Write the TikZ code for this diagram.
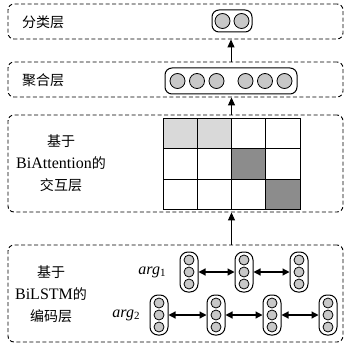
\documentclass[tikz,border=0pt]{standalone}
\usepackage{fontspec}
\setmainfont{Liberation Serif}
\newfontfamily\cjk{Noto Sans CJK SC}
\usetikzlibrary{arrows.meta,calc}
\newcommand\zh[1]{{\cjk\fontsize{14}{22}\selectfont #1}}
\newcommand\argsub[1]{\textit{arg}\raisebox{-0.35ex}{\fontsize{11}{11}\selectfont #1}}
\definecolor{lightcell}{HTML}{D9D9D9}
\definecolor{darkcell}{HTML}{8C8C8C}
\definecolor{circfill}{HTML}{C8C8C8}
\begin{document}
\begin{tikzpicture}[x=1pt,y=-1pt,
  layer/.style={draw, dash pattern=on 4pt off 2.5pt, rounded corners=6pt, line width=0.9pt, minimum width=335pt, inner sep=0pt},
  lbl/.style={inner sep=0pt, align=center, font=\fontsize{16}{22}\selectfont},
  vec/.style={draw, rounded corners=7pt, line width=1pt, inner sep=0pt},
  dot/.style={circle, draw, fill=circfill, line width=0.8pt, inner sep=0pt},
  pill/.style={draw, rounded corners=8pt, line width=1pt, minimum width=18pt, minimum height=40pt, inner sep=0pt},
  arr/.style={-{Triangle[length=8pt,width=7pt]}, line width=1pt},
  darr/.style={{Triangle[length=7pt,width=7pt]}-{Triangle[length=7pt,width=7pt]}, line width=1.2pt}
]
\useasboundingbox (0,0) rectangle (345,347);

% layer boxes
\node[layer, minimum height=35pt] (l1) at (175.5,21.5) {};
\node[layer, minimum height=35pt] (l2) at (175.5,79.5) {};
\node[layer, minimum height=97pt] (l3) at (175.5,163.5) {};
\node[layer, minimum height=97pt] (l4) at (175.5,293.5) {};

% layer labels
\node[lbl] (t1) at (43,22) {\zh{分类层}};
\node[lbl] (t2) at (43,80) {\zh{聚合层}};
\node[lbl] (t3) at (61,163) {\zh{基于}\\BiAttention\zh{的}\\\zh{交互层}};
\node[lbl] (t4) at (51,294) {\zh{基于}\\BiLSTM\zh{的}\\\zh{编码层}};

% classification vector
\node[vec, minimum width=40pt, minimum height=22pt] (cls) at (232,21) {};
\foreach \dx [count=\i] in {-9.5,9.5}
  \node[dot, minimum size=15pt] (cd\i) at ($(cls.center)+(\dx,0)$) {};

% aggregation vector
\node[vec, minimum width=132pt, minimum height=26pt] (agg) at (231,81) {};
\foreach \dx [count=\i] in {-53.5,-34,-14.5,14.5,34,53.5}
  \node[dot, minimum size=15pt] (ad\i) at ($(agg.center)+(\dx,0)$) {};

% attention grid
\node[draw, line width=1pt, minimum width=137pt, minimum height=90pt, inner sep=0pt] (grid) at (231.5,164) {};
\fill[lightcell] (163,119) rectangle (231.5,149);
\fill[darkcell] (231.5,149) rectangle (265.75,179);
\fill[darkcell] (265.75,179) rectangle (300,209);
\foreach \gx in {163,197.25,231.5,265.75,300}
  \draw[line width=1pt] (\gx,119) -- (\gx,209);
\foreach \gy in {119,149,179,209}
  \draw[line width=1pt] (163,\gy) -- (300,\gy);

% BiLSTM pills
\foreach \px [count=\i] in {189,244,299} {
  \node[pill] (p1\i) at (\px,272) {};
  \foreach \dy [count=\j] in {-12,0,12}
    \node[dot, minimum size=10pt] (p1\i d\j) at ($(p1\i.center)+(0,\dy)$) {};
}
\foreach \px [count=\i] in {159,216,272,328} {
  \node[pill] (p2\i) at (\px,315) {};
  \foreach \dy [count=\j] in {-12,0,12}
    \node[dot, minimum size=10pt] (p2\i d\j) at ($(p2\i.center)+(0,\dy)$) {};
}
\draw[darr] (p11.east) -- (p12.west);
\draw[darr] (p12.east) -- (p13.west);
\draw[darr] (p21.east) -- (p22.west);
\draw[darr] (p22.east) -- (p23.west);
\draw[darr] (p23.east) -- (p24.west);

\node[lbl] (a1) at (152,272) {\argsub{1}};
\node[lbl] (a2) at (126,315) {\argsub{2}};

% arrows between layers
\draw[arr] (agg.north |- l2.north) -- (agg.north |- l1.south);
\draw[arr] (grid.north |- l3.north) -- (grid.north |- l2.south);
\draw[arr] (grid.south |- l4.north) -- (grid.south |- l3.south);
\end{tikzpicture}
\end{document}
